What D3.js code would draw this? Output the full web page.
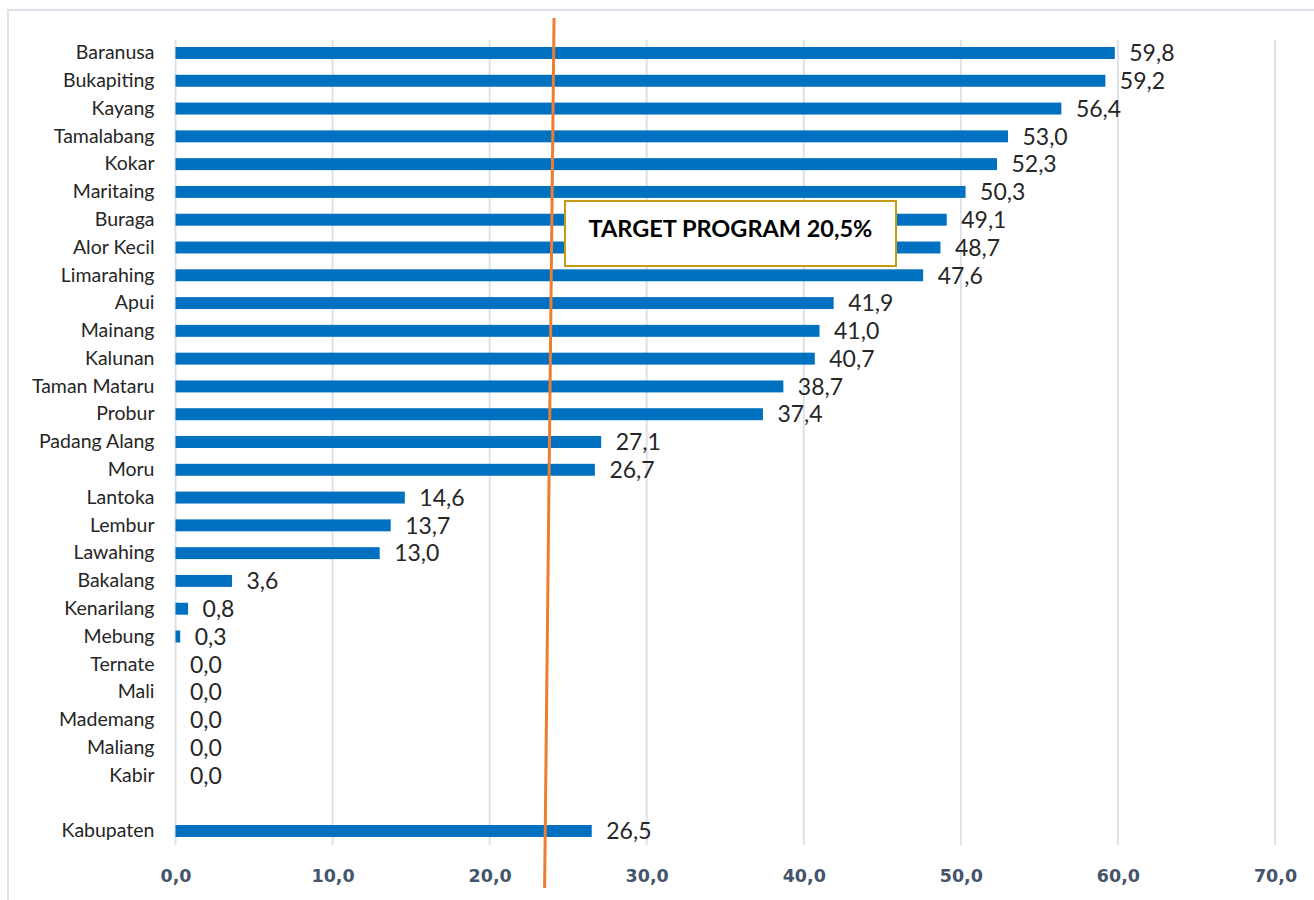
<!DOCTYPE html>
<html>
<head>
<meta charset="utf-8">
<script src="https://cdn.jsdelivr.net/npm/d3@7"></script>
<style>
  html, body { margin: 0; padding: 0; background: #ffffff; }
  svg { display: block; }
</style>
</head>
<body>
<svg id="chart" width="1314" height="900"></svg>
<script>
// ---- data ----
const categories = [
  "Baranusa", "Bukapiting", "Kayang", "Tamalabang", "Kokar", "Maritaing",
  "Buraga", "Alor Kecil", "Limarahing", "Apui", "Mainang", "Kalunan",
  "Taman Mataru", "Probur", "Padang Alang", "Moru", "Lantoka", "Lembur",
  "Lawahing", "Bakalang", "Kenarilang", "Mebung", "Ternate", "Mali",
  "Mademang", "Maliang", "Kabir", "", "Kabupaten"
];
const values = [
  59.8, 59.2, 56.4, 53.0, 52.3, 50.3,
  49.1, 48.7, 47.6, 41.9, 41.0, 40.7,
  38.7, 37.4, 27.1, 26.7, 14.6, 13.7,
  13.0, 3.6, 0.8, 0.3, 0.0, 0.0,
  0.0, 0.0, 0.0, null, 26.5
];
const xTicks = [0, 10, 20, 30, 40, 50, 60, 70];
const targetLine = [24.1, 23.5];       // x value at top, at bottom (as drawn)
const targetLabel = "TARGET PROGRAM 20,5%";

// ---- layout ----
const svg = d3.select("#chart");
const W = 1314, H = 900;
const x0 = 175.5, x1 = 1275;
const yTop = 39.1, yBot = 844.9;

const locale = d3.formatLocale({ decimal: ",", thousands: ".", grouping: [3], currency: ["", ""] });
const fmt = locale.format(".1f");

const x = d3.scaleLinear().domain([0, 70]).range([x0, x1]);
const y = d3.scaleBand().domain(d3.range(categories.length))
  .range([yTop, yBot]).paddingInner(0.57).paddingOuter(0.285);

// frame
svg.append("rect")
  .attr("x", 8).attr("y", 10).attr("width", W + 20).attr("height", H + 20)
  .attr("fill", "none").attr("stroke", "#DCE1EA").attr("stroke-width", 2);

// gridlines
svg.append("g").selectAll("line").data(xTicks).join("line")
  .attr("x1", d => x(d)).attr("x2", d => x(d))
  .attr("y1", 40).attr("y2", 845)
  .attr("stroke", "#DDE2EA").attr("stroke-width", 2);

// x axis labels
const xAxis = d3.axisBottom(x).tickValues(xTicks).tickFormat(d => fmt(d)).tickSize(0).tickPadding(0);
const gx = svg.append("g").attr("transform", "translate(0,870)").call(xAxis);
gx.select(".domain").remove();
gx.selectAll("text")
  .attr("dy", "0.71em").attr("y", 0)
  .style("font-family", "'DejaVu Sans', sans-serif")
  .style("font-weight", "bold").style("font-size", "17.5px")
  .attr("fill", "#44546A");

// bars
const rows = categories.map((c, i) => ({ c, v: values[i], i })).filter(d => d.v !== null);
svg.append("g").selectAll("rect").data(rows).join("rect")
  .attr("x", x(0))
  .attr("y", d => y(d.i))
  .attr("width", d => x(d.v) - x(0))
  .attr("height", y.bandwidth())
  .attr("fill", "#0070C0");

// category labels
const yAxis = d3.axisLeft(y).tickFormat(i => categories[i]).tickSize(0).tickPadding(21);
const gy = svg.append("g").attr("transform", `translate(${x0},0)`).call(yAxis);
gy.select(".domain").remove();
gy.selectAll("text")
  .style("font-family", "Lato, sans-serif").style("font-size", "19.5px")
  .attr("fill", "#262626");

// value labels
svg.append("g").selectAll("text").data(rows).join("text")
  .attr("x", d => x(d.v) + 14.5)
  .attr("y", d => y(d.i) + y.bandwidth() / 2)
  .attr("dy", "0.36em")
  .style("font-family", "Lato, sans-serif").style("font-size", "23px")
  .attr("fill", "#262626")
  .text(d => fmt(d.v));

// target line
svg.append("line")
  .attr("x1", x(targetLine[0])).attr("y1", 18)
  .attr("x2", x(targetLine[1])).attr("y2", 888)
  .attr("stroke", "#ED7D31").attr("stroke-width", 3);

// annotation box
const bx = 565, by = 201, bw = 331, bh = 65;
svg.append("rect")
  .attr("x", bx).attr("y", by).attr("width", bw).attr("height", bh)
  .attr("fill", "#ffffff").attr("stroke", "#C59A14").attr("stroke-width", 2);
svg.append("text")
  .attr("x", bx + bw / 2).attr("y", by + 28)
  .attr("text-anchor", "middle").attr("dy", "0.36em")
  .style("font-family", "Lato, sans-serif").style("font-weight", "bold").style("font-size", "23.5px")
  .attr("fill", "#000000")
  .text(targetLabel);
</script>
</body>
</html>
